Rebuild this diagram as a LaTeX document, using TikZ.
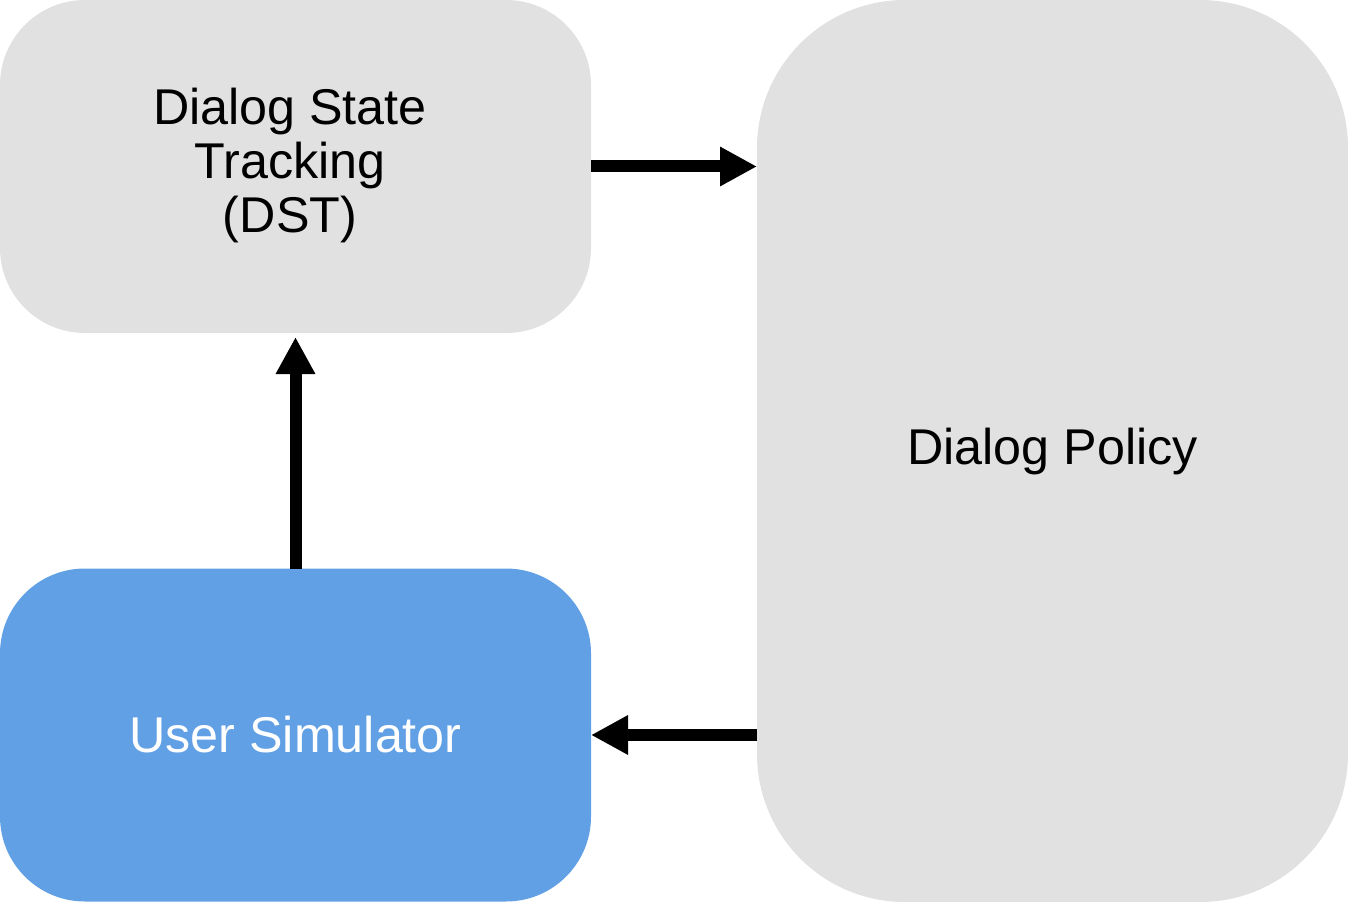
\documentclass[tikz,border=0pt]{standalone}
\usepackage{fontspec}
\setmainfont{Liberation Sans}
\usetikzlibrary{arrows.meta}
\definecolor{boxgray}{HTML}{E1E1E1}
\definecolor{boxblue}{HTML}{62A0E5}
\begin{document}
\begin{tikzpicture}[x=0.75pt,y=-0.75pt,
  box/.style={rounded corners=63.75pt, inner sep=0pt, outer sep=0pt, align=center,
    font=\fontsize{37.7}{40.5}\selectfont, minimum width=443.25pt, minimum height=249.75pt},
  lbl/.style={inner sep=0pt, align=center, font=\fontsize{37.7}{40.5}\selectfont},
  conn/.style={line width=9pt, -{Triangle[length=27.75pt,width=27.75pt]}}]
\useasboundingbox (0,0) rectangle (1348,902);
\node[box, fill=boxgray] (dst) at (295.5,166.5) {};
\node[lbl] (dstlabel) at (290,165) {Dialog State\\Tracking\\(DST)};
\node[box, fill=boxblue, text=white] (us) at (295.5,735) {User Simulator};
\node[box, fill=boxgray, rounded corners=111pt, minimum height=676.5pt] (pol) at (1052.5,451) {Dialog Policy};
\draw[conn] (dst.east) -- (dst.east -| pol.west);
\draw[conn, shorten >=3pt] (us.north) -- (dst.south);
\draw[conn] (us.east -| pol.west) -- (us.east);
\end{tikzpicture}
\end{document}
